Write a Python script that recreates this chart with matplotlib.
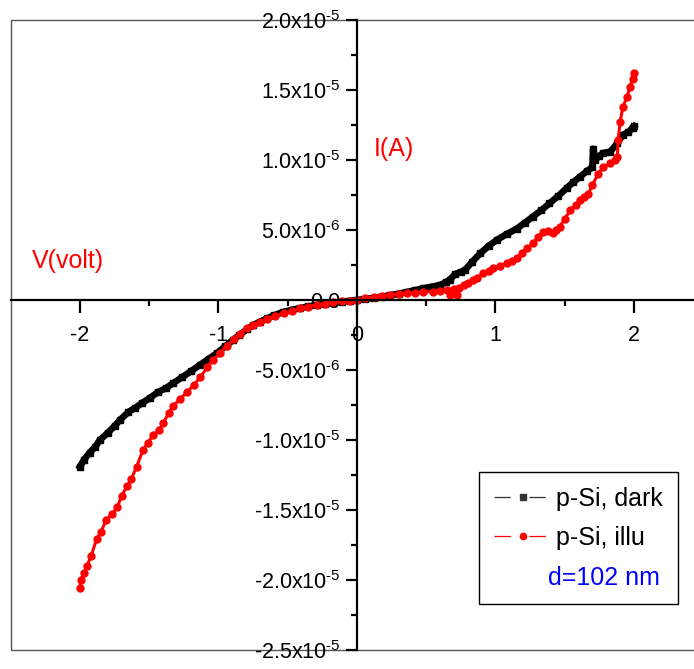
import numpy as np
import matplotlib.pyplot as plt
from matplotlib.lines import Line2D
from matplotlib.patches import Rectangle

plt.rcParams['font.family'] = ['Liberation Sans', 'DejaVu Sans']
plt.rcParams['mathtext.default'] = 'regular'

# dark curve: V (volt), I (x1e-6 A)
dark_v = [-2.00, -1.97, -1.93, -1.89, -1.856, -1.80, -1.75, -1.711, -1.65, -1.60,
          -1.55, -1.495, -1.44, -1.38, -1.328, -1.26, -1.20, -1.134, -1.07, -1.011,
          -0.95, -0.895, -0.85, -0.794, -0.75, -0.70, -0.65, -0.60, -0.534, -0.47,
          -0.41, -0.35, -0.29, -0.23, -0.17, -0.11, -0.05, 0.0, 0.06, 0.12,
          0.18, 0.24, 0.30, 0.36, 0.42, 0.48, 0.54, 0.60, 0.64, 0.67,
          0.71, 0.75, 0.78, 0.83, 0.89, 0.95, 1.01, 1.08, 1.155, 1.21,
          1.27, 1.33, 1.39, 1.45, 1.515, 1.56, 1.61, 1.66, 1.70, 1.705,
          1.72, 1.75, 1.78, 1.83, 1.88, 1.92, 1.96, 1.99, 2.00]
dark_i = [-11.9, -11.4, -10.9, -10.5, -10.0, -9.5, -9.0, -8.57, -8.0, -7.7,
          -7.35, -7.0, -6.6, -6.3, -5.95, -5.5, -5.1, -4.64, -4.2, -3.8,
          -3.3, -2.86, -2.5, -2.1, -1.8, -1.55, -1.32, -1.1, -0.86, -0.7,
          -0.58, -0.46, -0.36, -0.27, -0.19, -0.12, -0.06, 0.0, 0.07, 0.15,
          0.24, 0.34, 0.45, 0.57, 0.70, 0.83, 0.95, 1.07, 1.25, 1.45,
          1.86, 2.0, 2.14, 2.7, 3.33, 3.85, 4.29, 4.7, 5.1, 5.5,
          5.95, 6.4, 6.9, 7.4, 8.0, 8.4, 8.8, 9.2, 9.5, 10.8,
          10.0, 10.3, 10.5, 10.6, 11.2, 11.8, 12.0, 12.3, 12.4]

# illuminated curve
illu_v = [-2.00, -1.995, -1.97, -1.95, -1.92, -1.88, -1.85, -1.81, -1.77, -1.73,
          -1.70, -1.66, -1.63, -1.59, -1.545, -1.51, -1.47, -1.43, -1.40, -1.36,
          -1.33, -1.28, -1.23, -1.18, -1.13, -1.08, -1.04, -0.99, -0.94, -0.89,
          -0.845, -0.794, -0.75, -0.70, -0.65, -0.59, -0.53, -0.47, -0.41, -0.35,
          -0.29, -0.23, -0.17, -0.11, -0.05, 0.0, 0.06, 0.12, 0.18, 0.24,
          0.30, 0.36, 0.42, 0.48, 0.55, 0.60, 0.65, 0.67, 0.70, 0.72,
          0.74, 0.77, 0.80, 0.84, 0.87, 0.91, 0.95, 0.985, 1.03, 1.08,
          1.12, 1.155, 1.19, 1.23, 1.27, 1.31, 1.345, 1.38, 1.415, 1.44,
          1.465, 1.50, 1.54, 1.58, 1.61, 1.64, 1.67, 1.70, 1.74, 1.78,
          1.83, 1.86, 1.88, 1.885, 1.90, 1.92, 1.95, 1.97, 1.99, 2.00]
illu_i = [-20.6, -20.0, -19.5, -19.0, -18.3, -17.1, -16.6, -15.7, -15.3, -14.8,
          -14.0, -13.3, -12.8, -11.9, -10.7, -10.2, -9.64, -9.3, -8.8, -8.1,
          -7.6, -7.1, -6.6, -6.1, -5.5, -4.8, -4.3, -3.8, -3.3, -2.8,
          -2.4, -2.0, -1.78, -1.58, -1.38, -1.15, -0.95, -0.78, -0.6, -0.47,
          -0.36, -0.26, -0.17, -0.1, -0.04, 0.0, 0.12, 0.24, 0.32, 0.38,
          0.43, 0.48, 0.53, 0.57, 0.6, 0.65, 0.71, 0.36, 0.75, 0.36,
          0.85, 1.07, 1.2, 1.43, 1.6, 1.9, 2.05, 2.26, 2.45, 2.62,
          2.8, 2.98, 3.33, 3.7, 4.05, 4.5, 4.88, 4.95, 4.76, 5.0,
          5.24, 5.8, 6.4, 6.8, 7.14, 7.35, 7.6, 8.2, 9.0, 9.5,
          9.76, 10.0, 10.2, 11.4, 12.7, 13.8, 14.5, 15.2, 15.8, 16.2]

xticks = [-2, -1, 0, 1, 2]
xtick_labels = ['-2', '-1', '0', '1', '2']
yticks = [-2.5e-5, -2.0e-5, -1.5e-5, -1.0e-5, -5.0e-6, 0.0, 5.0e-6, 1.0e-5, 1.5e-5, 2.0e-5]
ytick_labels = ['-2.5x10$^{\u20105}$', '-2.0x10$^{\u20105}$', '-1.5x10$^{\u20105}$',
                '-1.0x10$^{\u20105}$', '-5.0x10$^{\u20106}$', '0.0', '5.0x10$^{\u20106}$',
                '1.0x10$^{\u20105}$', '1.5x10$^{\u20105}$', '2.0x10$^{\u20105}$']

fig = plt.figure(figsize=(6.94, 6.69), dpi=100)
ax = fig.add_axes([10.7/694, 19/669, 692.5/694, 630/669])

ax.plot(dark_v, np.array(dark_i)*1e-6, color='black', lw=4.8, marker='s', ms=5,
        label='p-Si, dark', zorder=3)
ax.plot(illu_v, np.array(illu_i)*1e-6, color='red', lw=2.2, marker='o', ms=5,
        label='p-Si, illu', zorder=4)

ax.set_xlim(-2.5, 2.5)
ax.set_ylim(-2.5e-5, 2.0e-5)

for s in ['top', 'right']:
    ax.spines[s].set_visible(False)
ax.spines['left'].set_position(('data', 0))
ax.spines['bottom'].set_position(('data', 0))
ax.spines['left'].set_linewidth(1.6)
ax.spines['bottom'].set_linewidth(1.6)
ax.spines['left'].set_zorder(5)
ax.spines['bottom'].set_zorder(5)

ax.add_patch(Rectangle((0, 0), 1, 1, transform=ax.transAxes, fill=False,
                       edgecolor='#555555', lw=1.0, clip_on=False, zorder=1))

ax.set_xticks(xticks)
ax.set_xticklabels(xtick_labels)
ax.set_xticks([-1.5, -0.5, 0.5, 1.5], minor=True)
ax.set_yticks(yticks)
ax.set_yticklabels(ytick_labels)
ax.set_yticks([-2.25e-5, -1.75e-5, -1.25e-5, -7.5e-6, -2.5e-6, 2.5e-6, 7.5e-6, 1.25e-5, 1.75e-5], minor=True)
ax.tick_params(axis='x', which='major', direction='out', length=9, width=1.6, labelsize=15.5, pad=9)
ax.tick_params(axis='x', which='minor', direction='out', length=4, width=1.6)
ax.tick_params(axis='y', which='major', direction='out', length=8, width=1.6, labelsize=15.5, pad=4)
ax.tick_params(axis='y', which='minor', direction='out', length=4, width=1.6)

ax.text(-2.35, 2.8e-6, 'V(volt)', color='red', fontsize=18, va='center', ha='left')
ax.text(0.12, 1.08e-5, 'I(A)', color='red', fontsize=18, va='center', ha='left')

h_dark = Line2D([], [], color='#333333', lw=0.9, marker='s', ms=4, linestyle=(0, (13, 15)))
h_illu = Line2D([], [], color='red', lw=0.9, marker='o', ms=4.5, linestyle=(0, (13, 15)))
h_none = Line2D([], [], color='none')
leg = ax.legend([h_dark, h_illu, h_none], ['p-Si, dark', 'p-Si, illu', ' '],
                loc='upper left', bbox_to_anchor=(479/694, 1 - 472/669),
                bbox_transform=fig.transFigure, fontsize=18, fancybox=False,
                edgecolor='black', framealpha=1, handlelength=2.3,
                labelspacing=0.6, handletextpad=0.2, borderpad=0.6,
                borderaxespad=0)
leg.get_frame().set_linewidth(1.0)
leg.set_zorder(6)

fig.text(548/694, 1 - 578/669, 'd=102 nm', color='blue', fontsize=18,
         ha='left', va='center', zorder=7)

plt.savefig('out.png', dpi=100)
